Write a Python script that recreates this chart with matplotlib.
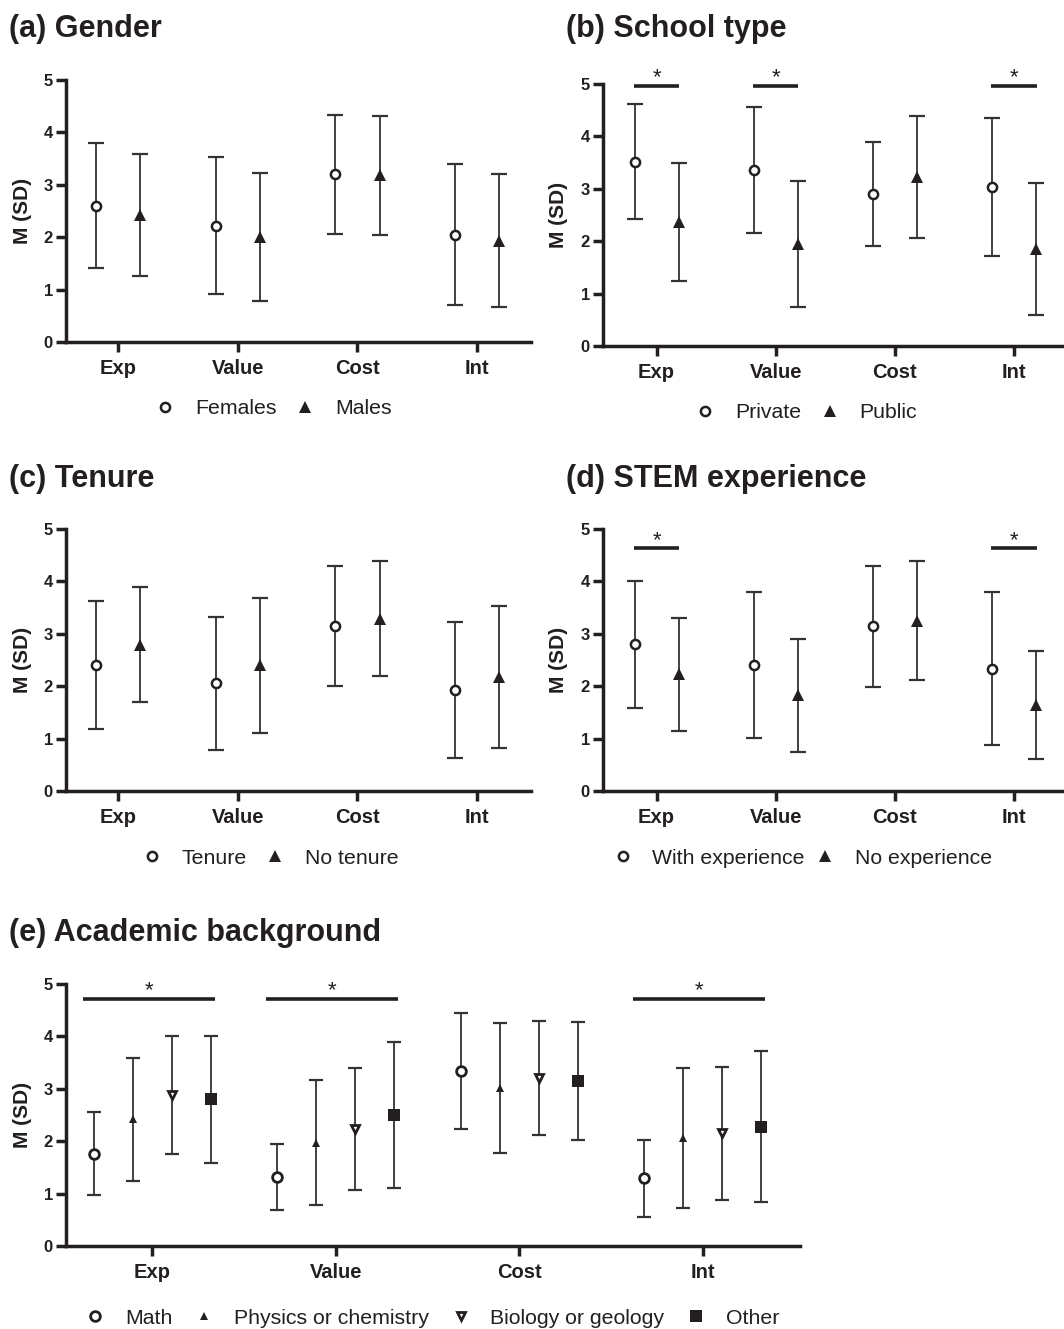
import matplotlib
matplotlib.use('Agg')
import matplotlib.pyplot as plt
from matplotlib.lines import Line2D

plt.rcParams['font.family'] = ['Liberation Sans', 'DejaVu Sans']

W, H, DPI = 1064, 1329, 100
INK = '#231f20'
BAR = '#333333'

categories = ['Exp', 'Value', 'Cost', 'Int']
yticks = [0, 1, 2, 3, 4, 5]

# (a) Gender
gender_groups = ['Females', 'Males']
gender_mean = [[2.60, 2.22, 3.20, 2.05], [2.42, 2.00, 3.18, 1.93]]
gender_sd = [[1.19, 1.31, 1.13, 1.35], [1.17, 1.22, 1.14, 1.27]]

# (b) School type
school_groups = ['Private', 'Public']
school_mean = [[3.52, 3.36, 2.90, 3.04], [2.37, 1.95, 3.22, 1.85]]
school_sd = [[1.10, 1.20, 0.99, 1.32], [1.12, 1.20, 1.16, 1.26]]
school_sig = ['Exp', 'Value', 'Int']
school_sig_level = 4.97

# (c) Tenure
tenure_groups = ['Tenure', 'No tenure']
tenure_mean = [[2.41, 2.06, 3.15, 1.93], [2.79, 2.40, 3.29, 2.18]]
tenure_sd = [[1.22, 1.27, 1.15, 1.30], [1.10, 1.29, 1.09, 1.36]]

# (d) STEM experience
stem_groups = ['With experience', 'No experience']
stem_mean = [[2.80, 2.40, 3.14, 2.33], [2.23, 1.83, 3.25, 1.65]]
stem_sd = [[1.21, 1.39, 1.15, 1.46], [1.08, 1.08, 1.13, 1.03]]
stem_sig = ['Exp', 'Int']
stem_sig_level = 4.64

# (e) Academic background
acad_groups = ['Math', 'Physics or chemistry', 'Biology or geology', 'Other']
acad_mean = [[1.76, 1.32, 3.34, 1.29],
             [2.42, 1.97, 3.01, 2.06],
             [2.88, 2.23, 3.21, 2.15],
             [2.80, 2.50, 3.15, 2.28]]
acad_sd = [[0.79, 0.63, 1.11, 0.73],
           [1.17, 1.19, 1.24, 1.33],
           [1.12, 1.16, 1.09, 1.27],
           [1.21, 1.40, 1.13, 1.44]]
acad_sig = ['Exp', 'Value', 'Int']
acad_sig_level = 4.72

fig = plt.figure(figsize=(W / DPI, H / DPI), dpi=DPI)


def px_axes(left, top, right, bottom):
    return fig.add_axes([left / W, 1 - bottom / H, (right - left) / W, (bottom - top) / H])


def style_axes(ax, xlim, width_px):
    ax.set_xlim(*xlim)
    ax.set_ylim(0, 5)
    ax.set_yticks(yticks)
    ax.set_xticks(range(len(categories)))
    ax.set_xticklabels(categories, fontsize=14.5, fontweight='bold', color=INK)
    for lab in ax.get_yticklabels():
        lab.set_fontsize(12)
        lab.set_fontweight('bold')
        lab.set_color(INK)
    for s in ['top', 'right']:
        ax.spines[s].set_visible(False)
    for s in ['left', 'bottom']:
        ax.spines[s].set_linewidth(2.5)
        ax.spines[s].set_color(INK)
        ax.spines[s].set_capstyle('projecting')
    ax.tick_params(axis='both', length=7, width=2.5, color=INK, direction='out')
    ax.tick_params(axis='y', pad=2.5)
    ax.tick_params(axis='x', pad=5)
    ax.set_ylabel('M (SD)', fontsize=15, fontweight='bold', color=INK, va='center')
    ax.yaxis.set_label_coords(-44 / width_px, 0.5)


def draw_groups(ax, means, sds, offsets, markers, capsize):
    for g, (m, s) in enumerate(zip(means, sds)):
        xs = [i + offsets[g] for i in range(len(categories))]
        ax.errorbar(xs, m, yerr=s, fmt='none', ecolor=BAR, elinewidth=1.3,
                    capsize=capsize, capthick=1.6, zorder=2)
        ax.plot(xs, m, linestyle='none', zorder=3, **markers[g])


def sig_bars(ax, cats, level, x0, x1):
    for c in cats:
        i = categories.index(c)
        ax.plot([i + x0, i + x1], [level, level], color=INK, lw=2.6,
                solid_capstyle='butt', clip_on=False, zorder=4)
        ax.annotate('*', xy=(i + (x0 + x1) / 2, level), xytext=(0, 1.5),
                    textcoords='offset points', ha='center', va='baseline',
                    fontsize=16, color=INK, annotation_clip=False)


def legend(ax, groups, markers, cx, cy, colsp):
    handles = [Line2D([], [], linestyle='none', **mk) for mk in markers]
    ax.legend(handles, groups, loc='center', bbox_to_anchor=(cx / W, 1 - cy / H),
              bbox_transform=fig.transFigure, ncol=len(groups), frameon=False,
              fontsize=15.3, handlelength=1.0, handletextpad=0.9, columnspacing=colsp,
              labelcolor=INK)


circ2 = dict(marker='o', markersize=6.6, markerfacecolor='white', markeredgecolor=INK,
             markeredgewidth=1.8)
tri2 = dict(marker='^', markersize=8.6, markerfacecolor=INK, markeredgecolor=INK,
            markeredgewidth=0)
two_markers = [circ2, tri2]
two_offsets = [-0.185, 0.185]

circ4 = dict(marker='o', markersize=7.0, markerfacecolor='white', markeredgecolor=INK,
             markeredgewidth=2.0)
tri4 = dict(marker='^', markersize=6.0, markerfacecolor=INK, markeredgecolor=INK,
            markeredgewidth=0)
dtri4 = dict(marker='v', markersize=6.4, markerfacecolor='white', markeredgecolor=INK,
             markeredgewidth=2.0)
sq4 = dict(marker='s', markersize=8.0, markerfacecolor=INK, markeredgecolor=INK,
           markeredgewidth=0)
four_markers = [circ4, tri4, dtri4, sq4]
four_offsets = [-0.32, -0.107, 0.107, 0.32]

# (a)
axa = px_axes(66, 80, 531, 342)
style_axes(axa, (-0.434, 3.45), 465)
draw_groups(axa, gender_mean, gender_sd, two_offsets, two_markers, 6)
legend(axa, gender_groups, two_markers, 273, 409, 0.85)

# (b)
axb = px_axes(603, 84, 1064, 346)
style_axes(axb, (-0.45, 3.42), 461)
draw_groups(axb, school_mean, school_sd, two_offsets, two_markers, 6)
sig_bars(axb, school_sig, school_sig_level, -0.19, 0.19)
legend(axb, school_groups, two_markers, 806, 413, 0.85)

# (c)
axc = px_axes(66, 529, 531, 791)
style_axes(axc, (-0.434, 3.45), 465)
draw_groups(axc, tenure_mean, tenure_sd, two_offsets, two_markers, 6)
legend(axc, tenure_groups, two_markers, 270, 858, 0.85)

# (d)
axd = px_axes(603, 529, 1064, 791)
style_axes(axd, (-0.45, 3.42), 461)
draw_groups(axd, stem_mean, stem_sd, two_offsets, two_markers, 6)
sig_bars(axd, stem_sig, stem_sig_level, -0.19, 0.19)
legend(axd, stem_groups, two_markers, 802, 858, 0.45)

# (e)
axe = px_axes(66, 984, 800, 1246)
style_axes(axe, (-0.47, 3.53), 734)
draw_groups(axe, acad_mean, acad_sd, four_offsets, four_markers, 5)
sig_bars(axe, acad_sig, acad_sig_level, -0.38, 0.34)
legend(axe, acad_groups, four_markers, 432, 1318, 1.0)

# Panel titles
titles = [('(a) Gender', 9, 37), ('(b) School type', 566, 37),
          ('(c) Tenure', 9, 487), ('(d) STEM experience', 566, 487),
          ('(e) Academic background', 9, 941)]
for text, x, y in titles:
    fig.text(x / W, 1 - y / H, text, fontsize=22, fontweight='bold', color=INK,
             ha='left', va='baseline')

fig.savefig('out.png', dpi=DPI, facecolor='white')
